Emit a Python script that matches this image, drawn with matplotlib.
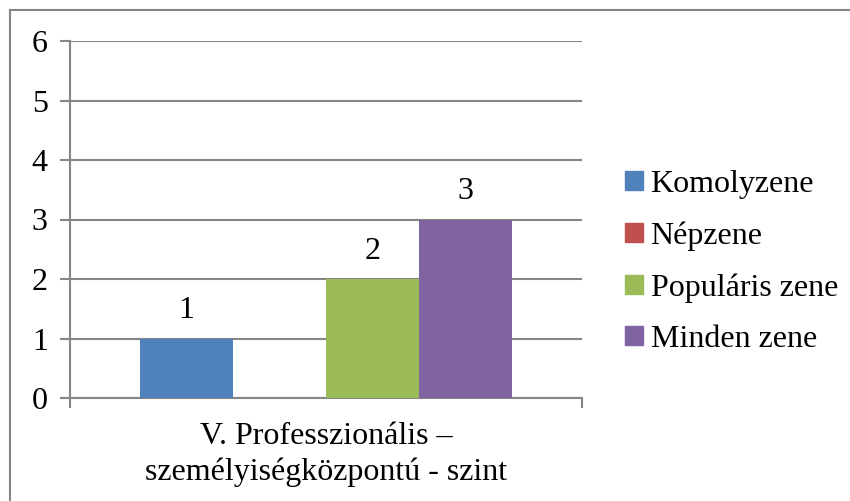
import matplotlib.pyplot as plt
from matplotlib.lines import Line2D
import numpy as np

# data
series = ["Komolyzene", "Népzene", "Populáris zene", "Minden zene"]
values = [1, 0, 2, 3]
colors = ["#4F81BD", "#C0504D", "#9BBB59", "#8064A2"]
category = "V. Professzionális –\nszemélyiségközpontú - szint"
yticks = [0, 1, 2, 3, 4, 5, 6]

plt.rcParams['font.family'] = ['Liberation Serif', 'DejaVu Serif']
FS = 23

fig = plt.figure(figsize=(8.5, 5.01), dpi=100)
ax = fig.add_axes([70 / 850, 1 - 398 / 501, 512 / 850, 357 / 501])

grid_col = "#868686"
width = 0.182
offsets = (np.arange(len(series)) - 1.5) * width
for name, v, c, off in zip(series, values, colors, offsets):
    ax.bar(off, v, width=width, color=c, label=name, zorder=3)
    if v > 0:
        ax.text(off, v + 0.22, str(v), ha='center', va='bottom', fontsize=FS)

ax.set_xlim(-0.5, 0.5)
ax.set_ylim(0, 6)
ax.set_yticks(yticks)
ax.set_yticklabels([str(t) for t in yticks], fontsize=FS)
ax.yaxis.grid(True, color=grid_col, linewidth=1.5, zorder=0)
ax.set_xticks([-0.5, 0.5])
ax.set_xticklabels(["", ""])
ax.tick_params(axis='y', length=7, width=1.5, color=grid_col, pad=9)
ax.tick_params(axis='x', length=7, width=1.5, color=grid_col)
for s in ['top', 'right']:
    ax.spines[s].set_visible(False)
for s in ['left', 'bottom']:
    ax.spines[s].set_color(grid_col)
    ax.spines[s].set_linewidth(1.5)

ax.text(0, -0.95, category, ha='center', va='center', fontsize=FS,
        linespacing=1.25)

handles = [plt.Rectangle((0, 0), 1, 1, color=c) for c in colors]
fig.legend(handles, series, loc='center left', bbox_to_anchor=(625 / 850, 1 - 262 / 501),
           frameon=False, fontsize=FS, handlelength=0.55, handleheight=0.55,
           handletextpad=0.25, labelspacing=0.7, borderpad=0, borderaxespad=0)

# outer chart border (left and top only visible)
fig.add_artist(Line2D([10 / 850, 10 / 850], [0, 1 - 10 / 501], transform=fig.transFigure,
                      color=grid_col, linewidth=1.5))
fig.add_artist(Line2D([10 / 850, 1], [1 - 10 / 501, 1 - 10 / 501], transform=fig.transFigure,
                      color=grid_col, linewidth=1.5))

fig.savefig("out.png", dpi=100)
